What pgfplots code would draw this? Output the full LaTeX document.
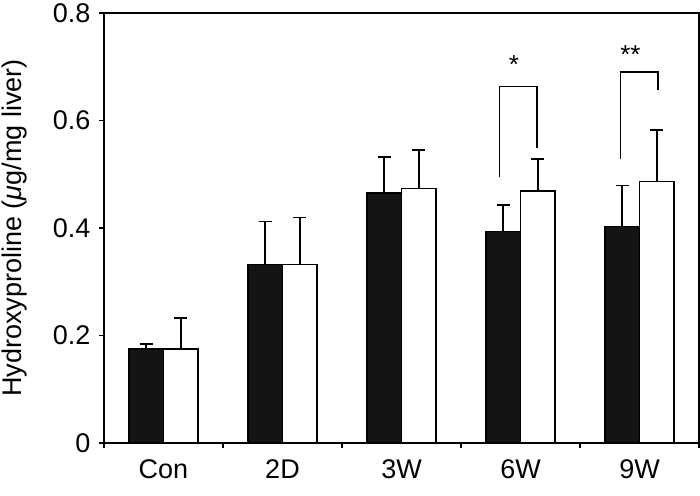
\documentclass[border=0pt]{standalone}
\usepackage{pgfplots}
\usepackage{pgfplotstable}
\pgfplotsset{compat=1.18}
\usepackage{fontspec}
\setmainfont{Liberation Sans}
\definecolor{barblack}{HTML}{141414}
% xs = category position shifted by half the bar pair
\pgfplotstableread{
x xs y e
0 -0.145 0.175 0.009
1 0.855 0.332 0.080
2 1.855 0.465 0.067
3 2.855 0.394 0.049
4 3.855 0.403 0.076
}\blackdata
\pgfplotstableread{
x xs y e
0 0.145 0.175 0.058
1 1.145 0.332 0.088
2 2.145 0.474 0.071
3 3.145 0.469 0.059
4 4.145 0.487 0.095
}\whitedata
\begin{document}
\begin{tikzpicture}
\begin{axis}[
  at={(0,0)}, anchor=south west,
  scale only axis, width=595pt, height=430pt,
  xmin=-0.5, xmax=4.5, ymin=0, ymax=0.8,
  ytick={0,0.2,0.4,0.6,0.8},
  yticklabels={0,0.2,0.4,0.6,0.8},
  xtick={-0.5,0.5,1.5,2.5,3.5,4.5}, xticklabels={},
  extra x ticks={0,1,2,3,4},
  extra x tick labels={Con,2D,3W,6W,9W},
  extra x tick style={major tick length=0pt},
  xtick pos=bottom, ytick pos=left,
  tick align=outside, major tick length=5pt,
  axis line style={line width=1.3pt},
  every tick/.style={line width=1.3pt, black},
  tick label style={font=\fontsize{27}{31}\selectfont},
  yticklabel style={xshift=-5pt},
  xticklabel style={yshift=-13pt},
  label style={font=\fontsize{27}{31}\selectfont},
  ylabel={Hydroxyproline (\textit{μ}g/mg liver)},
  ylabel style={at={(axis description cs:-0.1496,0.5)}, anchor=center},
  /pgf/number format/assume math mode=true,
  clip=false,
]
\addplot[ybar, bar width=0.29, bar shift=0pt, fill=barblack, draw=black, line width=1.3pt,
  error bars/.cd, y dir=plus, y explicit,
  error bar style={line width=1.5pt, black},
  error mark options={rotate=90, mark size=6.5pt, line width=1.5pt, black}]
  table[x=xs, y=y, y error=e] {\blackdata};
\addplot[ybar, bar width=0.29, bar shift=0pt, fill=white, draw=black, line width=1.3pt,
  error bars/.cd, y dir=plus, y explicit,
  error bar style={line width=1.5pt, black},
  error mark options={rotate=90, mark size=6.5pt, line width=1.5pt, black}]
  table[x=xs, y=y, y error=e] {\whitedata};
% significance brackets
\addplot[black, line width=1.5pt, mark=none, sharp plot] coordinates {(2.824,0.494) (2.824,0.663) (3.137,0.663) (3.137,0.549)};
\addplot[black, line width=1.5pt, mark=none, sharp plot] coordinates {(3.840,0.528) (3.840,0.690) (4.157,0.690) (4.157,0.656)};
\node[anchor=base, yshift=-15pt, font=\fontsize{26}{30}\selectfont] at (axis cs:2.944,0.716) {*};
\node[anchor=base, yshift=-15pt, font=\fontsize{26}{30}\selectfont] at (axis cs:3.924,0.734) {**};
\end{axis}
\pgfresetboundingbox
\path[use as bounding box] (-104pt,-52pt) rectangle (596pt,443pt);
\end{tikzpicture}
\end{document}
